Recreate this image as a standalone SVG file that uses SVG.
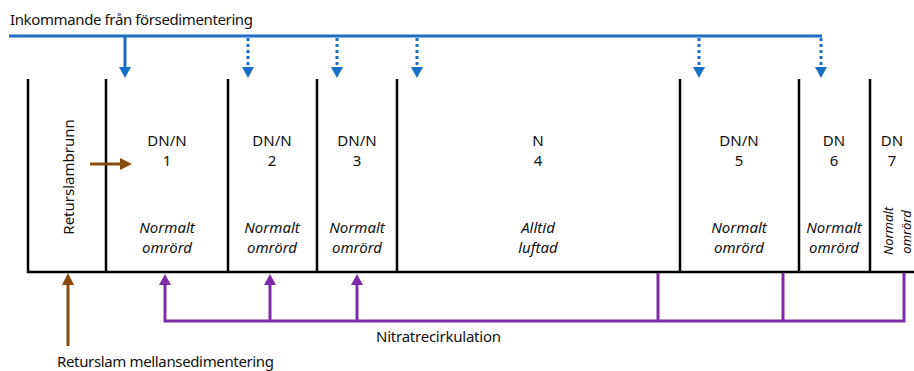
<svg xmlns="http://www.w3.org/2000/svg" width="914" height="371" viewBox="0 0 914 371">
  <defs>
    <!-- arrowheads drawn in their final orientation; the base sits on the path end -->
    <marker id="headBlue" viewBox="0 0 12 11" refX="6" refY="0" markerWidth="12" markerHeight="11" markerUnits="userSpaceOnUse">
      <path d="M0,0 L12,0 L6,11 Z" fill="#1a6fc4"/>
    </marker>
    <marker id="headPurple" viewBox="0 0 12 11" refX="6" refY="11" markerWidth="12" markerHeight="11" markerUnits="userSpaceOnUse">
      <path d="M6,0 L12,11 L0,11 Z" fill="#7b2ca6"/>
    </marker>
    <marker id="headBrownUp" viewBox="0 0 12 12" refX="6" refY="12" markerWidth="12" markerHeight="12" markerUnits="userSpaceOnUse">
      <path d="M6,0 L12,12 L0,12 Z" fill="#8a4a0c"/>
    </marker>
    <marker id="headBrownRight" viewBox="0 0 12 12" refX="0" refY="6" markerWidth="12" markerHeight="12" markerUnits="userSpaceOnUse">
      <path d="M0,0 L12,6 L0,12 Z" fill="#8a4a0c"/>
    </marker>
  </defs>
  <style>
    .wall { stroke: #000; stroke-width: 2.5; fill: none; }
    .feed { stroke: #1a6fc4; stroke-width: 3; fill: none; }
    .dot { stroke: #1a6fc4; stroke-width: 3; fill: none; stroke-dasharray: 3 3; }
    .recirc { stroke: #7b2ca6; stroke-width: 3; fill: none; }
    .sludge { stroke: #8a4a0c; stroke-width: 3; fill: none; }
    text { font-family: "Noto Sans", "Open Sans", "Liberation Sans", sans-serif; fill: #111; }
    .lbl { font-size: 15px; }
    .mid { text-anchor: middle; }
    .it { font-style: italic; font-size: 15px; text-anchor: middle; }
    .sm { font-size: 13px; }
  </style>
  <rect width="914" height="371" fill="#fff"/>

  <!-- basin walls -->
  <g id="basin">
    <path class="wall" d="M28,79 V272 M106,79 V272 M228,79 V272 M317,79 V272 M397,79 V272 M680,79 V272 M799,79 V272 M870,79 V272 M26.8,272 H914"/>
  </g>

  <!-- zones -->
  <g id="returslambrunn">
    <text class="lbl mid" transform="translate(74,177) rotate(-90)">Returslambrunn</text>
  </g>
  <g id="zon1">
    <text class="lbl mid" x="167" y="146">DN/N</text>
    <text class="lbl mid" x="167" y="166">1</text>
    <text class="it" x="167" y="233">Normalt</text>
    <text class="it" x="167" y="253">omrörd</text>
  </g>
  <g id="zon2">
    <text class="lbl mid" x="272" y="146">DN/N</text>
    <text class="lbl mid" x="272" y="166">2</text>
    <text class="it" x="272" y="233">Normalt</text>
    <text class="it" x="272" y="253">omrörd</text>
  </g>
  <g id="zon3">
    <text class="lbl mid" x="357" y="146">DN/N</text>
    <text class="lbl mid" x="357" y="166">3</text>
    <text class="it" x="357" y="233">Normalt</text>
    <text class="it" x="357" y="253">omrörd</text>
  </g>
  <g id="zon4">
    <text class="lbl mid" x="538" y="146">N</text>
    <text class="lbl mid" x="538" y="166">4</text>
    <text class="it" x="538" y="233">Alltid</text>
    <text class="it" x="538" y="253">luftad</text>
  </g>
  <g id="zon5">
    <text class="lbl mid" x="739" y="146">DN/N</text>
    <text class="lbl mid" x="739" y="166">5</text>
    <text class="it" x="739" y="233">Normalt</text>
    <text class="it" x="739" y="253">omrörd</text>
  </g>
  <g id="zon6">
    <text class="lbl mid" x="834" y="146">DN</text>
    <text class="lbl mid" x="834" y="166">6</text>
    <text class="it" x="834" y="233">Normalt</text>
    <text class="it" x="834" y="253">omrörd</text>
  </g>
  <g id="zon7">
    <text class="lbl mid" x="892" y="146">DN</text>
    <text class="lbl mid" x="892" y="166">7</text>
    <text class="it sm" transform="translate(893,231) rotate(-90)">Normalt</text>
    <text class="it sm" transform="translate(911,232) rotate(-90)">omrörd</text>
  </g>

  <!-- flows -->
  <g id="connectors">
    <!-- inflow from primary settling -->
    <path class="feed" d="M9,36 H822"/>
    <path class="feed" d="M125,36 V67" marker-end="url(#headBlue)"/>
    <path class="dot" d="M248,38 V67" marker-end="url(#headBlue)"/>
    <path class="dot" d="M337,38 V67" marker-end="url(#headBlue)"/>
    <path class="dot" d="M417,38 V67" marker-end="url(#headBlue)"/>
    <path class="dot" d="M699,38 V67" marker-end="url(#headBlue)"/>
    <path class="dot" d="M821,38 V67" marker-end="url(#headBlue)"/>

    <!-- return sludge -->
    <path class="sludge" d="M68,346 V285" marker-end="url(#headBrownUp)"/>
    <path class="sludge" d="M90,164 H120" marker-end="url(#headBrownRight)"/>

    <!-- nitrate recirculation -->
    <path class="recirc" d="M904,273 V321 H165 V285"/>
    <path class="recirc" d="M658,273 V321 M783,273 V321"/>
    <path class="recirc" d="M165,286 V285" marker-end="url(#headPurple)"/>
    <path class="recirc" d="M270,321 V285" marker-end="url(#headPurple)"/>
    <path class="recirc" d="M357,321 V285" marker-end="url(#headPurple)"/>
  </g>

  <!-- captions -->
  <g id="captions">
    <text class="lbl" x="10" y="25" textLength="243">Inkommande från försedimentering</text>
    <text class="lbl" x="376" y="342" textLength="125">Nitratrecirkulation</text>
    <text class="lbl" x="57" y="367" textLength="217">Returslam mellansedimentering</text>
  </g>
</svg>
